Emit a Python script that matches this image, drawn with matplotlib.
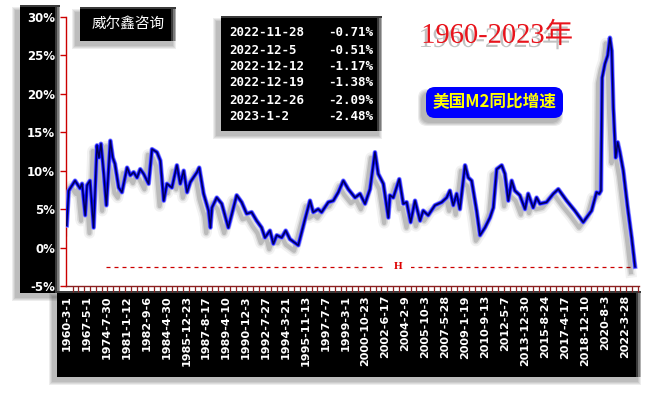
import matplotlib
matplotlib.use('Agg')
import matplotlib.pyplot as plt
import matplotlib.patheffects as pe
import matplotlib.transforms as mtransforms
from matplotlib.patches import Rectangle, FancyBboxPatch
from matplotlib.ticker import MultipleLocator, FixedLocator, FuncFormatter

# ---------------- data ----------------
tick_labels = ['1960-3-1', '1967-5-1', '1974-7-30', '1981-1-12', '1982-9-6', '1984-4-30',
               '1985-12-23', '1987-8-17', '1989-4-10', '1990-12-3', '1992-7-27', '1994-3-21',
               '1995-11-13', '1997-7-7', '1999-3-1', '2000-10-23', '2002-6-17', '2004-2-9',
               '2005-10-3', '2007-5-28', '2009-1-19', '2010-9-13', '2012-5-7', '2013-12-30',
               '2015-8-24', '2017-4-17', '2018-12-10', '2020-8-3', '2022-3-28']

# position along the category axis (in units of tick-label spacing)
x_pos = [0.00, 0.10, 0.42, 0.52, 0.67, 0.77, 0.93, 1.02, 1.17, 1.35, 1.52, 1.62, 1.72, 1.86,
         1.99, 2.19, 2.31, 2.42, 2.61, 2.77, 3.03, 3.19, 3.36, 3.53, 3.69, 3.86, 4.11, 4.28,
         4.53, 4.70, 4.87, 5.03, 5.28, 5.53, 5.70, 5.87, 6.04, 6.20, 6.54, 6.65, 6.87, 7.12,
         7.21, 7.29, 7.53, 7.78, 8.11, 8.53, 8.78, 9.03, 9.28, 9.53, 9.78, 9.95, 10.20, 10.37,
         10.54, 10.79, 10.99, 11.20, 11.62, 11.96, 12.21, 12.37, 12.62, 12.79, 13.13, 13.38,
         13.63, 13.88, 14.13, 14.47, 14.72, 14.97, 15.22, 15.47, 15.63, 15.89, 16.14, 16.22,
         16.39, 16.69, 16.89, 17.06, 17.26, 17.48, 17.73, 17.89, 18.14, 18.48, 18.82, 19.07,
         19.23, 19.40, 19.57, 19.73, 19.99, 20.15, 20.32, 20.57, 20.74, 20.99, 21.24, 21.41,
         21.58, 21.83, 21.99, 22.16, 22.33, 22.49, 22.74, 23.00, 23.16, 23.41, 23.58, 23.75,
         24.08, 24.42, 24.67, 25.09, 25.50, 25.92, 26.09, 26.34, 26.59, 26.72, 26.81, 26.87,
         27.01, 27.15, 27.26, 27.35, 27.43, 27.55, 27.65, 27.76, 27.93, 28.15, 28.35, 28.52]

m2_yoy = [2.9, 7.4, 8.7, 8.3, 7.7, 8.3, 4.2, 8.1, 8.7, 2.6, 13.3, 11.7, 13.5, 9.6,
          5.5, 13.9, 11.7, 10.9, 7.8, 7.2, 10.4, 9.4, 9.8, 9.1, 10.2, 9.6, 8.3, 12.8,
          12.4, 11.3, 6.1, 8.3, 7.8, 10.7, 8.3, 10.0, 7.2, 8.5, 9.8, 10.4, 7.0, 4.8,
          2.6, 5.2, 6.5, 5.7, 2.6, 6.8, 5.9, 4.4, 4.6, 3.5, 2.6, 1.3, 2.2, 0.5,
          1.6, 1.3, 2.2, 1.1, 0.3, 3.7, 6.1, 4.6, 5.0, 4.6, 5.9, 6.1,
          7.2, 8.7, 7.6, 6.5, 7.0, 5.7, 7.6, 12.4, 9.6, 8.3, 3.9, 6.8,
          6.5, 8.9, 5.7, 5.9, 3.3, 6.1, 3.5, 4.8, 4.2, 5.5, 5.9, 6.5,
          7.4, 5.5, 7.0, 5.0, 10.7, 9.1, 8.7, 4.8, 1.6, 2.6, 3.9, 5.2,
          10.2, 10.7, 9.6, 6.1, 8.7, 7.4, 6.8, 5.0, 7.0, 5.2, 6.5, 5.7,
          5.9, 7.0, 7.6, 6.1, 4.8, 3.3, 3.9, 4.8, 7.2, 7.0, 7.4, 22.1,
          23.9, 25.0, 27.3, 25.6, 18.2, 11.7, 13.7, 12.4, 10.0, 5.2, 1.3, -2.48]

recent_dates = ['2022-11-28', '2022-12-5', '2022-12-12', '2022-12-19', '2022-12-26', '2023-1-2']
recent_values = [-0.71, -0.51, -1.17, -1.38, -2.09, -2.48]
latest_value = recent_values[-1]
ref_line_start = 1.97
h_mark_pos = 16.62

# ---------------- figure ----------------
W, H = 665, 393
fig = plt.figure(figsize=(W / 100, H / 100), dpi=100)
fig.patch.set_facecolor('white')

# pixel transform (origin top-left)
T = mtransforms.Affine2D().scale(1 / 100, -1 / 100).translate(0, H / 100) + fig.dpi_scale_trans


def rect(x0, y0, x1, y1, color, z=-1, alpha=1.0):
    r = Rectangle((x0, y0), x1 - x0, y1 - y0, transform=T, facecolor=color,
                  edgecolor='none', zorder=z, alpha=alpha)
    fig.add_artist(r)


def shadow(x0, y0, x1, y1, z, dx=-4, dy=4, layers=4):
    for i in range(layers):
        g = layers - i
        rect(x0 + dx - g, y0 + dy - g + 2, x1 + dx + g, y1 + dy + g, '#000000', z, alpha=0.07)


def black_panel(x0, y0, x1, y1, z=-1):
    shadow(x0, y0, x1, y1, z)
    rect(x0, y0, x1, y1, '#000000', z)
    rect(x1 - 5, y0, x1 - 3, y1, '#3a3a3a', z)
    rect(x1 - 3, y0, x1 - 1.5, y1, '#7a7a7a', z)
    rect(x1 - 1.5, y0, x1, y1, '#b0b0b0', z)
    rect(x0, y0, x1, y0 + 2, '#3a3a3a', z)


# left (y labels) and bottom (x labels) black bars
black_panel(20, 5, 60, 293, z=-2)
black_panel(57, 291, 641, 377, z=-2)

# ---------------- axes ----------------
ax = fig.add_axes([66 / W, 1 - 286 / H, (639 - 66) / W, (286 - 17) / H])
ax.set_facecolor('white')
ax.set_xlim(-0.035, 28.72)
ax.set_ylim(-5, 30)
for s in ['top', 'right']:
    ax.spines[s].set_visible(False)
ax.spines['left'].set_color('#cc0000')
ax.spines['left'].set_linewidth(1.0)
ax.spines['bottom'].set_color('#8b2020')
ax.spines['bottom'].set_linewidth(1.0)

ax.yaxis.set_major_locator(MultipleLocator(5))
ax.yaxis.set_major_formatter(FuncFormatter(lambda v, p: f'{v:.0f}%'))
ax.tick_params(axis='y', direction='out', length=4.5, width=1, color='#cc0000',
               labelcolor='white', labelsize=8.5, pad=3.5)
for lab in ax.get_yticklabels():
    lab.set_fontweight('bold')
    lab.set_family('DejaVu Sans')

ax.xaxis.set_major_locator(FixedLocator(list(range(len(tick_labels)))))
ax.set_xticklabels(tick_labels, rotation=90, fontsize=8, fontweight='bold', color='white',
                   family='DejaVu Sans')
ax.xaxis.set_minor_locator(MultipleLocator(0.2925))
ax.tick_params(axis='x', which='major', length=0, pad=6.5)
ax.tick_params(axis='x', which='minor', direction='out', length=4, width=0.9, color='#8b2020')

# main line with soft shadow
shadow_fx = [pe.SimpleLineShadow(offset=(-3, -4), shadow_color='#000000', alpha=0.05, linewidth=8),
             pe.SimpleLineShadow(offset=(-3, -4), shadow_color='#000000', alpha=0.09, linewidth=5),
             pe.SimpleLineShadow(offset=(-3, -4), shadow_color='#000000', alpha=0.15, linewidth=3),
             pe.Normal()]
ax.plot(x_pos, m2_yoy, color='#8c8cff', lw=3.4, solid_joinstyle='round', path_effects=shadow_fx,
        zorder=3)
ax.plot(x_pos, m2_yoy, color='#1010ff', lw=2.3, solid_joinstyle='round', zorder=4)
ax.plot(x_pos, m2_yoy, color='#000050', lw=1.0, solid_joinstyle='round', zorder=5)

# reference dashed line at latest value
ax.plot([ref_line_start, x_pos[-1]], [latest_value, latest_value], color='#cc0000', lw=0.9,
        ls=(0, (3.2, 3.2)), zorder=2)
ax.text(h_mark_pos, latest_value, 'H', color='#dd0000', fontsize=8, fontweight='bold',
        family='Liberation Serif', ha='center', va='center', zorder=2.5,
        bbox=dict(facecolor='white', edgecolor='none', pad=6))

# ---------------- overlays ----------------
# company label box
black_panel(80, 7, 176, 41, z=5)
fig.text(128, 24, '威尔鑫咨询', transform=T, color='white', fontsize=10.5,
         family=['Noto Sans CJK SC', 'DejaVu Sans'], ha='center', va='center', zorder=6)

# recent values box
black_panel(221, 16, 382, 131, z=5)
row_y = [33, 50, 67, 83, 100, 117]
for d, v, yy in zip(recent_dates, recent_values, row_y):
    fig.text(229, yy, d, transform=T, color='white', fontsize=9, fontweight='bold',
             family='DejaVu Sans Mono', ha='left', va='center', zorder=6)
    fig.text(373, yy, f'{v:.2f}%', transform=T, color='white', fontsize=9, fontweight='bold',
             family='DejaVu Sans Mono', ha='right', va='center', zorder=6)

# red title
fig.text(497, 36, '1960-2023年', transform=T, color='#e8141c', fontsize=20.5,
         family=['Liberation Serif', 'Noto Sans CJK SC'], ha='center', va='center', zorder=6,
         path_effects=[pe.withSimplePatchShadow(offset=(-2, -3), shadow_rgbFace='#777777',
                                                alpha=0.45)])

# blue label box
for i in range(4):
    g = 4 - i
    fig.add_artist(FancyBboxPatch((426 - 4 - g, 87 + 4 - g + 2), 137 + 2 * g, 31 + 2 * g - 2,
                                  boxstyle='round,pad=0,rounding_size=9', transform=T,
                                  facecolor='black', edgecolor='none', alpha=0.08, zorder=5))
fig.add_artist(FancyBboxPatch((426, 87), 137, 31, boxstyle='round,pad=0,rounding_size=9',
                              transform=T, facecolor='#0000ff', edgecolor='none', zorder=5))
fig.text(494, 102, '美国M2同比增速', transform=T, color='#ffff00', fontsize=12, fontweight='bold',
         family=['Noto Sans CJK SC', 'DejaVu Sans'], ha='center', va='center', zorder=6)

fig.savefig('out.png', dpi=100, facecolor='white')
